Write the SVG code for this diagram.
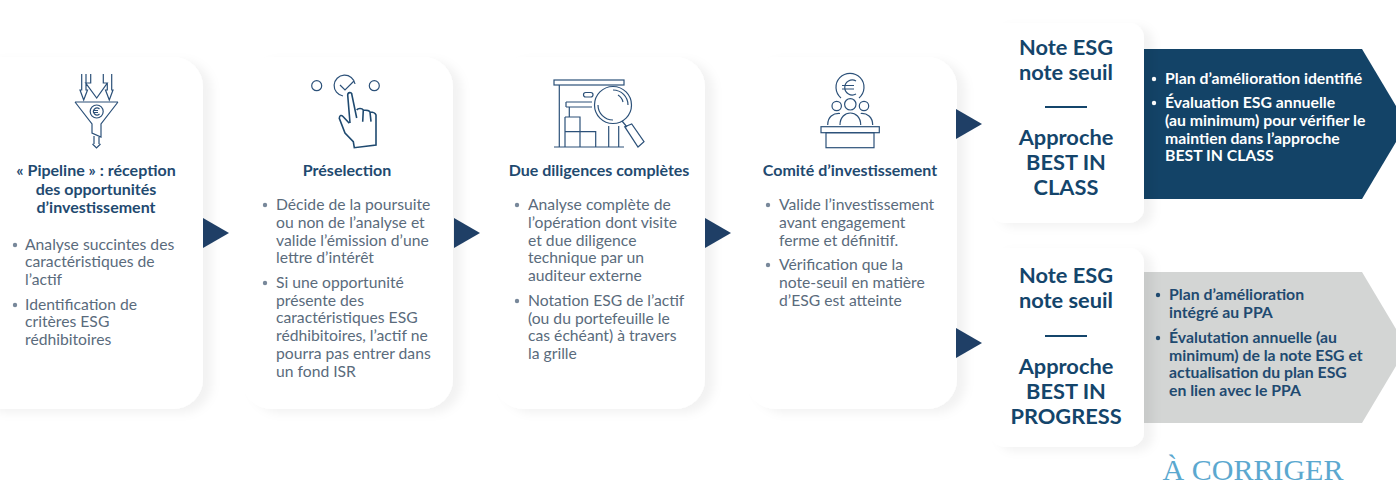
<svg xmlns="http://www.w3.org/2000/svg" width="1396" height="484" viewBox="0 0 1396 484">
<defs>
<filter id="sh" x="-20%" y="-20%" width="140%" height="140%"><feDropShadow dx="9" dy="4" stdDeviation="5" flood-color="#000" flood-opacity="0.05"/></filter>
<path id="arrow" d="M0 -15L26 0L0 15Z" fill="#1f3f66"/>
</defs>
<style>
text{font-family:"Lato","Open Sans",sans-serif}
.h{font-size:16px;font-weight:700;fill:#1f4a70;text-anchor:middle}
.b{font-size:15.700px;fill:#5a6b7c}
.d{fill:#78889a}
.t{font-size:21.800px;font-weight:700;fill:#14456b;text-anchor:middle}
.w{font-size:15.800px;font-weight:700;fill:#fff}
.g{font-size:15.800px;font-weight:700;fill:#1f4a70}
.i{fill:none;stroke:#2c5179;stroke-width:1.200}
.r{stroke:#14456b;stroke-width:2}
</style>
<rect width="1396" height="484" fill="#fff"/>
<g id="panel-class"><path d="M1144 49H1362L1396 106V142L1362 199H1144Z" fill="#134367"/>
<circle cx="1154" cy="79" r="2.200" fill="#fff"/><text class="w" x="1165" y="84">Plan d’amélioration identifié</text>
<circle cx="1154" cy="103" r="2.200" fill="#fff"/><text class="w" x="1165" y="108">Évaluation ESG annuelle</text><text class="w" x="1165" y="126">(au minimum) pour vérifier le</text><text class="w" x="1165" y="144">maintien dans l’approche</text><text class="w" x="1165" y="161">BEST IN CLASS</text></g>
<g id="panel-progress"><path d="M1144 272H1362L1396 329V366L1362 423H1144Z" fill="#d3d5d4"/>
<circle cx="1158" cy="295" r="2.200" fill="#1f4a70"/><text class="g" x="1169" y="300">Plan d’amélioration</text><text class="g" x="1169" y="318">intégré au PPA</text>
<circle cx="1158" cy="338" r="2.200" fill="#1f4a70"/><text class="g" x="1169" y="343">Évalutation annuelle (au</text><text class="g" x="1169" y="361">minimum) de la note ESG et</text><text class="g" x="1169" y="378">actualisation du plan ESG</text><text class="g" x="1169" y="396">en lien avec le PPA</text></g>
<g id="card-1"><rect x="-30" y="57" width="233" height="352" rx="30" fill="#fff" filter="url(#sh)"/>
<g class="i"><path d="M81.700 74V90H80L83.700 100L87.500 90H86V74M90.700 74V83H85.700L96.700 98L107.300 83H103.300V74M111.700 74V90H113L109.300 100L105.500 90H107.300V83"/>
<path d="M75 102H118M75 102L92 124V133L101 137V124L118 102M94 136V144M99 137V144M92.500 144L96.500 148L100.500 144"/><circle cx="96.700" cy="111.500" r="6.500"/><path d="M99.500 109A3.500 3.500 0 1 0 99.500 114M93 110.500H98M93 112.500H98"/></g>
<text class="h" x="96" y="176">« Pipeline » : réception</text><text class="h" x="96" y="195">des opportunités</text><text class="h" x="96" y="213">d’investissement</text>
<circle class="d" cx="15" cy="245" r="2.200"/><text class="b" x="25" y="250">Analyse succintes des</text><text class="b" x="25" y="267">caractéristiques de</text><text class="b" x="25" y="285">l’actif</text>
<circle class="d" cx="15" cy="305" r="2.200"/><text class="b" x="25" y="310">Identification de</text><text class="b" x="25" y="327">critères ESG</text><text class="b" x="25" y="345">rédhibitoires</text></g>
<g id="card-2"><rect x="242" y="57" width="211" height="352" rx="30" fill="#fff" filter="url(#sh)"/>
<g class="i"><circle cx="316.700" cy="85.700" r="5"/><circle cx="374.300" cy="85.700" r="5"/><path d="M343 96A10.500 10.500 0 1 1 355 84M340 85L345 90L354 81"/><path stroke="#1f4a70" stroke-width="1.600" d="M350 123L347.700 95C347.700 92 351.700 92 351.700 94L356.700 118M356.700 110C358 108 362 108 363.300 110L362.700 121.700M363.300 110C365 110 369 110 370 112L371 121.700M370 112C372 112 375 112 376 115V145L354.300 147.700L353.300 141.700L345 133L339.300 118.300C339.500 115 341.500 115 343 116.500L349.300 123.300"/></g>
<text class="h" x="347" y="176">Préselection</text>
<circle class="d" cx="265" cy="205" r="2.200"/><text class="b" x="276" y="210">Décide de la poursuite</text><text class="b" x="276" y="228">ou non de l’analyse et</text><text class="b" x="276" y="246">valide l’émission d’une</text><text class="b" x="276" y="263">lettre d’intérêt</text>
<circle class="d" cx="265" cy="283" r="2.200"/><text class="b" x="276" y="288">Si une opportunité</text><text class="b" x="276" y="306">présente des</text><text class="b" x="276" y="323">caractéristiques ESG</text><text class="b" x="276" y="341">rédhibitoires, l’actif ne</text><text class="b" x="276" y="359">pourra pas entrer dans</text><text class="b" x="276" y="377">un fond ISR</text></g>
<g id="card-3"><rect x="494" y="57" width="211" height="352" rx="30" fill="#fff" filter="url(#sh)"/>
<g class="i"><rect x="554" y="80" width="70" height="5"/><path d="M559.300 85V147M554 147H624M566 102H592M566 107H592M566 102V107M569.300 107V117M565 117H580V147M565 117V147M565 131.700H595.700V147M608.700 126V147M618.700 126V147"/><rect x="583.500" y="92.500" width="9.500" height="4.500" rx="2.200"/><circle cx="613" cy="105" r="18.500" fill="#fff"/><path d="M613 90A15 15 0 0 1 628 105M598 105A15 15 0 0 0 613 120M618 95A11 11 0 0 1 623 102M622 121L627 127M624.700 126.700L631.700 124L644 141.700L638 147Z"/></g>
<text class="h" x="599" y="176">Due diligences complètes</text>
<circle class="d" cx="517" cy="205" r="2.200"/><text class="b" x="528" y="210">Analyse complète de</text><text class="b" x="528" y="228">l’opération dont visite</text><text class="b" x="528" y="246">et due diligence</text><text class="b" x="528" y="263">technique par un</text><text class="b" x="528" y="281">auditeur externe</text>
<circle class="d" cx="517" cy="301" r="2.200"/><text class="b" x="528" y="306">Notation ESG de l’actif</text><text class="b" x="528" y="324">(ou du portefeuille le</text><text class="b" x="528" y="341">cas échéant) à travers</text><text class="b" x="528" y="359">la grille</text></g>
<g id="card-4"><rect x="746" y="57" width="211" height="352" rx="30" fill="#fff" filter="url(#sh)"/>
<g class="i"><path d="M841 98A14 14 0 1 1 859 98"/><path d="M856 81A7.500 7.500 0 1 0 856 94M842 85.500H854M842 89H854"/><circle cx="836.700" cy="106" r="4.700"/><circle cx="850.300" cy="104.300" r="5.700"/><circle cx="864" cy="106" r="4.700"/><path d="M827.700 125C827.700 117 833 113 840 113.500M840 125C840 109 860.700 109 860.700 125M860.700 113.500C867 113 872.700 117 872.700 125"/><rect x="821" y="126.700" width="58.300" height="6"/><rect x="826" y="132.700" width="48" height="15"/></g>
<text class="h" x="850" y="176">Comité d’investissement</text>
<circle class="d" cx="768" cy="205" r="2.200"/><text class="b" x="779" y="210">Valide l’investissement</text><text class="b" x="779" y="228">avant engagement</text><text class="b" x="779" y="246">ferme et définitif.</text>
<circle class="d" cx="768" cy="265" r="2.200"/><text class="b" x="779" y="270">Vérification que la</text><text class="b" x="779" y="288">note-seuil en matière</text><text class="b" x="779" y="306">d’ESG est atteinte</text></g>
<g id="connectors"><use href="#arrow" x="203" y="233"/><use href="#arrow" x="454" y="233"/><use href="#arrow" x="705" y="233"/><use href="#arrow" x="956" y="124"/><use href="#arrow" x="956" y="343"/></g>
<g id="note-class"><rect x="990" y="23" width="154" height="200" rx="15" fill="#fff" filter="url(#sh)"/>
<text class="t" x="1066" y="55">Note ESG</text><text class="t" x="1066" y="80">note seuil</text><line class="r" x1="1045" x2="1087" y1="107" y2="107"/><text class="t" x="1066" y="145">Approche</text><text class="t" x="1066" y="170">BEST IN</text><text class="t" x="1066" y="195">CLASS</text></g>
<g id="note-progress"><rect x="990" y="248" width="154" height="199" rx="15" fill="#fff" filter="url(#sh)"/>
<text class="t" x="1066" y="283">Note ESG</text><text class="t" x="1066" y="308">note seuil</text><line class="r" x1="1045" x2="1087" y1="336" y2="336"/><text class="t" x="1066" y="374">Approche</text><text class="t" x="1066" y="399">BEST IN</text><text class="t" x="1066" y="424">PROGRESS</text></g>
<text x="1253" y="480" text-anchor="middle" style="font-family:'Liberation Serif',serif;font-size:30px;fill:#5ba8cf">À CORRIGER</text>
</svg>
